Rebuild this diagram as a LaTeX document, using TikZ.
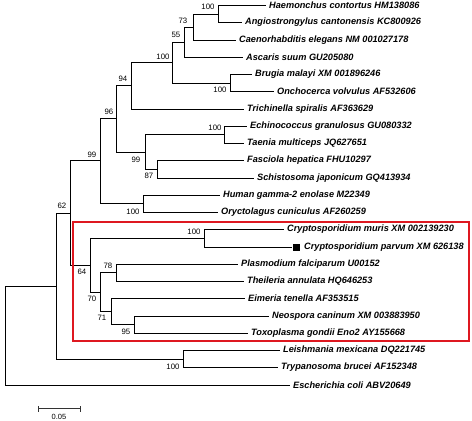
\documentclass[tikz,border=0pt]{standalone}
\usepackage{fontspec}
\setmainfont{Liberation Sans}
\definecolor{boxred}{RGB}{222,24,32}
\begin{document}
\begin{tikzpicture}[x=1pt,y=-1pt,
  br/.style={line width=1.5pt, black},
  leaf/.style={anchor=west, inner xsep=3pt, inner ysep=0pt, font=\fontsize{9.2}{10}\selectfont\bfseries\itshape},
  bs/.style={font=\fontsize{7.8}{9}\selectfont, inner sep=0pt},
  hilite/.style={draw=boxred, line width=1.6pt}]
\useasboundingbox (0,0) rectangle (472,421);
% leaves
\node[leaf] (l1) at (266,5.5) {Haemonchus contortus HM138086};
\node[leaf] (l2) at (242,22.5) {Angiostrongylus cantonensis KC800926};
\node[leaf] (l3) at (236,40.5) {Caenorhabditis elegans NM 001027178};
\node[leaf] (l4) at (243,57.5) {Ascaris suum GU205080};
\node[leaf] (l5) at (252,74.5) {Brugia malayi XM 001896246};
\node[leaf] (l6) at (274,91.5) {Onchocerca volvulus AF532606};
\node[leaf] (l7) at (244,109.5) {Trichinella spiralis AF363629};
\node[leaf] (l8) at (247,126.5) {Echinococcus granulosus GU080332};
\node[leaf] (l9) at (244,143.5) {Taenia multiceps JQ627651};
\node[leaf] (l10) at (244,160.5) {Fasciola hepatica FHU10297};
\node[leaf] (l11) at (254,178.5) {Schistosoma japonicum GQ413934};
\node[leaf] (l12) at (220,195.5) {Human gamma-2 enolase M22349};
\node[leaf] (l13) at (218,212.5) {Oryctolagus cuniculus AF260259};
\node[leaf] (l14) at (284,229.5) {Cryptosporidium muris XM 002139230};
\node[fill=black, minimum size=7pt, inner sep=0pt] (sq) at (296,247.5) {};
\node[leaf] (l15) at (301,247.5) {Cryptosporidium parvum XM 626138};
\node[leaf] (l16) at (238,264.5) {Plasmodium falciparum U00152};
\node[leaf] (l17) at (244,281.5) {Theileria annulata HQ646253};
\node[leaf] (l18) at (245,298.5) {Eimeria tenella AF353515};
\node[leaf] (l19) at (269,316.5) {Neospora caninum XM 003883950};
\node[leaf] (l20) at (248,333.5) {Toxoplasma gondii Eno2 AY155668};
\node[leaf] (l21) at (280,350.5) {Leishmania mexicana DQ221745};
\node[leaf] (l22) at (278,367.5) {Trypanosoma brucei AF152348};
\node[leaf] (l23) at (290,385.5) {Escherichia coli ABV20649};
% internal nodes
\coordinate (HA) at (218.5,14.5);
\coordinate (n73) at (193.5,27.5);
\coordinate (n55) at (184.5,42.5);
\coordinate (BO) at (230.5,83.5);
\coordinate (nb) at (172.5,62.5);
\coordinate (n94) at (131.5,85.5);
\coordinate (ET) at (224.5,134.5);
\coordinate (n87) at (157.5,169.5);
\coordinate (npl) at (145.5,152.5);
\coordinate (n96) at (116.5,118.5);
\coordinate (HO) at (143.5,203.5);
\coordinate (n99) at (100.5,160.5);
\coordinate (CR) at (204.5,238.5);
\coordinate (n78) at (116.5,272.5);
\coordinate (n95) at (134.5,324.5);
\coordinate (n71) at (111.5,311.5);
\coordinate (n70) at (100.5,292.5);
\coordinate (n64) at (90.5,265.5);
\coordinate (n62) at (70.5,213.5);
\coordinate (LT) at (183.5,359.5);
\coordinate (nLT) at (56.5,286.5);
\coordinate (root) at (5.5,336);
% branches
\draw[br] (HA) |- (l1.west) (HA) |- (l2.west);
\draw[br] (n73) |- (HA) (n73) |- (l3.west);
\draw[br] (n55) |- (n73) (n55) |- (l4.west);
\draw[br] (BO) |- (l5.west) (BO) |- (l6.west);
\draw[br] (nb) |- (n55) (nb) |- (BO);
\draw[br] (n94) |- (nb) (n94) |- (l7.west);
\draw[br] (ET) |- (l8.west) (ET) |- (l9.west);
\draw[br] (n87) |- (l10.west) (n87) |- (l11.west);
\draw[br] (npl) |- (ET) (npl) |- (n87);
\draw[br] (n96) |- (n94) (n96) |- (npl);
\draw[br] (HO) |- (l12.west) (HO) |- (l13.west);
\draw[br] (n99) |- (n96) (n99) |- (HO);
\draw[br] (CR) |- (l14.west) (CR) |- (sq.west);
\draw[br] (n78) |- (l16.west) (n78) |- (l17.west);
\draw[br] (n95) |- (l19.west) (n95) |- (l20.west);
\draw[br] (n71) |- (l18.west) (n71) |- (n95);
\draw[br] (n70) |- (n78) (n70) |- (n71);
\draw[br] (n64) |- (CR) (n64) |- (n70);
\draw[br] (n62) |- (n99) (n62) |- (n64);
\draw[br] (LT) |- (l21.west) (LT) |- (l22.west);
\draw[br] (nLT) |- (n62) (nLT) |- (LT);
\draw[br] (root) |- (nLT) (root) |- (l23.west);
% bootstrap values
\node[bs] (b1) at (208,7) {100};
\node[bs] (b2) at (183,21) {73};
\node[bs] (b3) at (176,35) {55};
\node[bs] (b4) at (163,57) {100};
\node[bs] (b5) at (220,90) {100};
\node[bs] (b6) at (123,79) {94};
\node[bs] (b7) at (109,112) {96};
\node[bs] (b8) at (215,128) {100};
\node[bs] (b9) at (136,160) {99};
\node[bs] (b10) at (149,176) {87};
\node[bs] (b11) at (133,212) {100};
\node[bs] (b12) at (92,155) {99};
\node[bs] (b13) at (62,206) {62};
\node[bs] (b14) at (194,232) {100};
\node[bs] (b15) at (82,272) {64};
\node[bs] (b16) at (108,266) {78};
\node[bs] (b17) at (92,299) {70};
\node[bs] (b18) at (102,318) {71};
\node[bs] (b19) at (126,332) {95};
\node[bs] (b20) at (173,367) {100};
% highlight box
\draw[hilite] (73,222) rectangle (469,341);
% scale bar
\coordinate (sb1) at (38,408.5);
\coordinate (sb2) at (80,408.5);
\draw[line width=1pt, black!80] (sb1) -- (sb2)
  ([yshift=-3pt]sb1) -- ([yshift=3pt]sb1)
  ([yshift=-3pt]sb2) -- ([yshift=3pt]sb2);
\node[font=\fontsize{7.5}{9}\selectfont, inner sep=0pt] (sbl) at (59,416.5) {0.05};
\end{tikzpicture}
\end{document}
